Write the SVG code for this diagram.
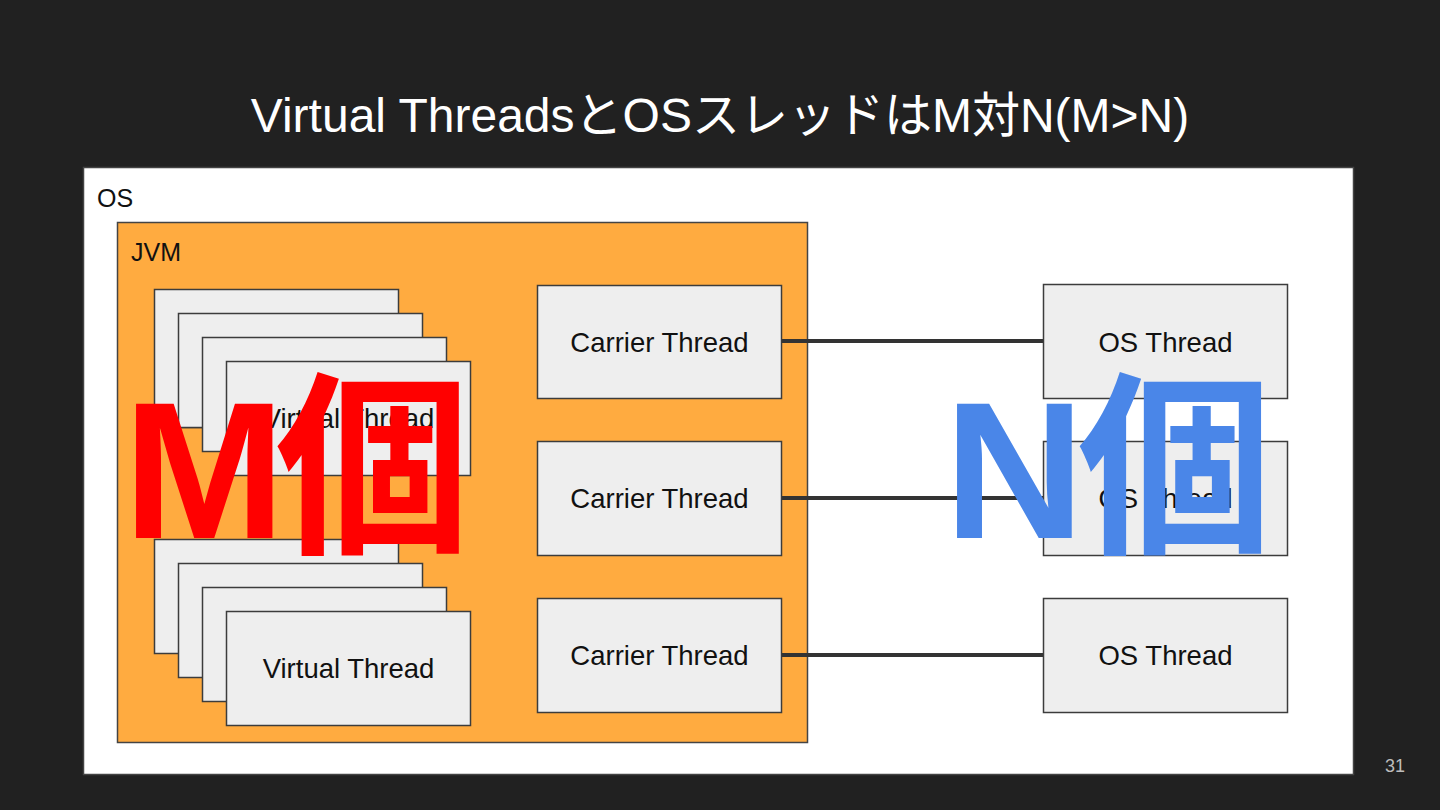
<svg xmlns="http://www.w3.org/2000/svg" width="1440" height="810" viewBox="0 0 1440 810">
<style>
.box{fill:#eeeeee;stroke:#3c3c3c;stroke-width:1.5}
.lbl{font-family:"Liberation Sans",Arial,sans-serif;font-size:27.5px;fill:#111;text-anchor:middle}
.big{font-family:"Liberation Sans","Noto Sans CJK JP",sans-serif;font-weight:bold;font-size:195px}
.conn{stroke:#333;stroke-width:4;fill:none}
</style>
<rect width="1440" height="810" fill="#212121"/>
<text x="720" y="132" font-family="Liberation Sans, Noto Sans CJK JP, sans-serif" font-size="48" fill="#ffffff" text-anchor="middle">Virtual ThreadsとOSスレッドはM対N(M&gt;N)</text>
<g id="os">
<rect x="83.5" y="167.5" width="1270" height="607" fill="#ffffff" stroke="#444" stroke-width="1.5"/>
<text x="97" y="207" font-family="Liberation Sans, sans-serif" font-size="25" fill="#111">OS</text>
</g>
<g id="jvm">
<rect x="117.5" y="222.5" width="690" height="520" fill="#ffab40" stroke="#444" stroke-width="1.5"/>
<text x="131" y="261" font-family="Liberation Sans, sans-serif" font-size="25" fill="#111">JVM</text>
</g>
<g id="vt-top">
<rect class="box" x="154.5" y="289.5" width="244" height="138"/>
<rect class="box" x="178.5" y="313.5" width="244" height="114"/>
<rect class="box" x="202.5" y="337.5" width="244" height="114"/>
<rect class="box" x="226.5" y="361.5" width="244" height="114"/>
<text class="lbl" x="348.5" y="428">Virtual Thread</text>
</g>
<g id="vt-bottom">
<rect class="box" x="154.5" y="539.5" width="244" height="114"/>
<rect class="box" x="178.5" y="563.5" width="244" height="114"/>
<rect class="box" x="202.5" y="587.5" width="244" height="114"/>
<rect class="box" x="226.5" y="611.5" width="244" height="114"/>
<text class="lbl" x="348.5" y="678">Virtual Thread</text>
</g>
<g id="connectors">
<line class="conn" x1="781" y1="341" x2="1043" y2="341"/>
<line class="conn" x1="781" y1="498" x2="1043" y2="498"/>
<line class="conn" x1="781" y1="655" x2="1043" y2="655"/>
</g>
<g id="carrier1"><rect class="box" x="537.5" y="285.5" width="244" height="113"/><text class="lbl" x="659.5" y="352">Carrier Thread</text></g>
<g id="carrier2"><rect class="box" x="537.5" y="441.5" width="244" height="114"/><text class="lbl" x="659.5" y="508">Carrier Thread</text></g>
<g id="carrier3"><rect class="box" x="537.5" y="598.5" width="244" height="114"/><text class="lbl" x="659.5" y="665">Carrier Thread</text></g>
<g id="osthread1"><rect class="box" x="1043.5" y="284.5" width="244" height="114"/><text class="lbl" x="1165.5" y="352">OS Thread</text></g>
<g id="osthread2"><rect class="box" x="1043.5" y="441.5" width="244" height="114"/><text class="lbl" x="1165.5" y="508">OS Thread</text></g>
<g id="osthread3"><rect class="box" x="1043.5" y="598.5" width="244" height="114"/><text class="lbl" x="1165.5" y="665">OS Thread</text></g>
<g id="m-count"><text class="big" x="123" y="538" fill="#ff0000" letter-spacing="-10">M個</text></g>
<g id="n-count"><text class="big" x="944" y="538" fill="#4a86e8" letter-spacing="-7">N個</text></g>
<text x="1395" y="772" font-family="Liberation Sans, sans-serif" font-size="18" fill="#bdbdbd" text-anchor="middle">31</text>
</svg>
